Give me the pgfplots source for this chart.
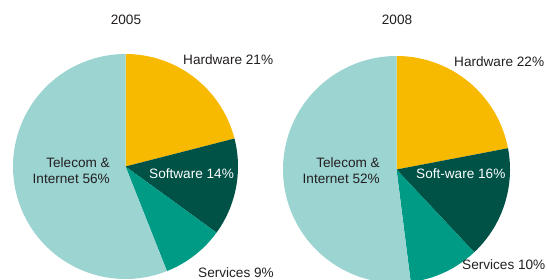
\documentclass[border=0pt]{standalone}
\usepackage{pgfplots}
\pgfplotsset{compat=1.18}
\usepackage{fontspec}
\setmainfont{Liberation Sans}
\definecolor{hw}{RGB}{248,186,0}
\definecolor{sw}{RGB}{0,81,70}
\definecolor{sv}{RGB}{0,155,133}
\definecolor{tc}{RGB}{155,212,209}
\definecolor{txt}{RGB}{35,31,32}
\begin{document}
\begin{tikzpicture}
\begin{axis}[at={(0,0)}, anchor=south west,
  width=547bp, height=280bp, scale only axis,
  xmin=0, xmax=547, ymin=0, ymax=280,
  hide axis, clip=true,
  samples=90, variable=\t,
  nodes={font=\fontsize{13.6bp}{16bp}\selectfont, text=txt, inner sep=0pt}]
% ---- 2005: Hardware 21, Software 14, Services 9, Telecom & Internet 56 ----
\addplot[fill=hw, draw=none, domain={90-3.6*21}:{90}]
  ({125.5+112.5*cos(t)}, {113.5+112.5*sin(t)}) -- (axis cs:125.5,113.5) -- cycle;
\addplot[fill=sw, draw=none, domain={90-3.6*(21+14)}:{90-3.6*21}]
  ({125.5+112.5*cos(t)}, {113.5+112.5*sin(t)}) -- (axis cs:125.5,113.5) -- cycle;
\addplot[fill=sv, draw=none, domain={90-3.6*(21+14+9)}:{90-3.6*(21+14)}]
  ({125.5+112.5*cos(t)}, {113.5+112.5*sin(t)}) -- (axis cs:125.5,113.5) -- cycle;
\addplot[fill=tc, draw=none, domain={90-3.6*(21+14+9+56)}:{90-3.6*(21+14+9)}]
  ({125.5+112.5*cos(t)}, {113.5+112.5*sin(t)}) -- (axis cs:125.5,113.5) -- cycle;
% ---- 2008: Hardware 22, Software 16, Services 10, Telecom & Internet 52 ----
\addplot[fill=hw, draw=none, domain={90-3.6*22}:{90}]
  ({396.5+113.5*cos(t)}, {110.5+113.5*sin(t)}) -- (axis cs:396.5,110.5) -- cycle;
\addplot[fill=sw, draw=none, domain={90-3.6*(22+16)}:{90-3.6*22}]
  ({396.5+113.5*cos(t)}, {110.5+113.5*sin(t)}) -- (axis cs:396.5,110.5) -- cycle;
\addplot[fill=sv, draw=none, domain={90-3.6*(22+16+10)}:{90-3.6*(22+16)}]
  ({396.5+113.5*cos(t)}, {110.5+113.5*sin(t)}) -- (axis cs:396.5,110.5) -- cycle;
\addplot[fill=tc, draw=none, domain={90-3.6*(22+16+10+52)}:{90-3.6*(22+16+10)}]
  ({396.5+113.5*cos(t)}, {110.5+113.5*sin(t)}) -- (axis cs:396.5,110.5) -- cycle;
% ---- labels ----
\node at (axis cs:126,260) {2005};
\node[anchor=west] at (axis cs:183,220) {Hardware 21\%};
\node[anchor=east, align=right] at (axis cs:110,109) {Telecom \&\\Internet 56\%};
\node[anchor=west, text=white] at (axis cs:149,106) {Software 14\%};
\node[anchor=base west] at (axis cs:198,2.5) {Services 9\%};
\node at (axis cs:397,260) {2008};
\node[anchor=west] at (axis cs:454,218) {Hardware 22\%};
\node[anchor=east, align=right] at (axis cs:380,109) {Telecom \&\\Internet 52\%};
\node[anchor=west, text=white] at (axis cs:416,106) {Soft-ware 16\%};
\node[anchor=base west] at (axis cs:462,11) {Services 10\%};
\end{axis}
\pgfresetboundingbox
\path[use as bounding box] (0,0) rectangle (547bp,280bp);
\end{tikzpicture}
\end{document}
